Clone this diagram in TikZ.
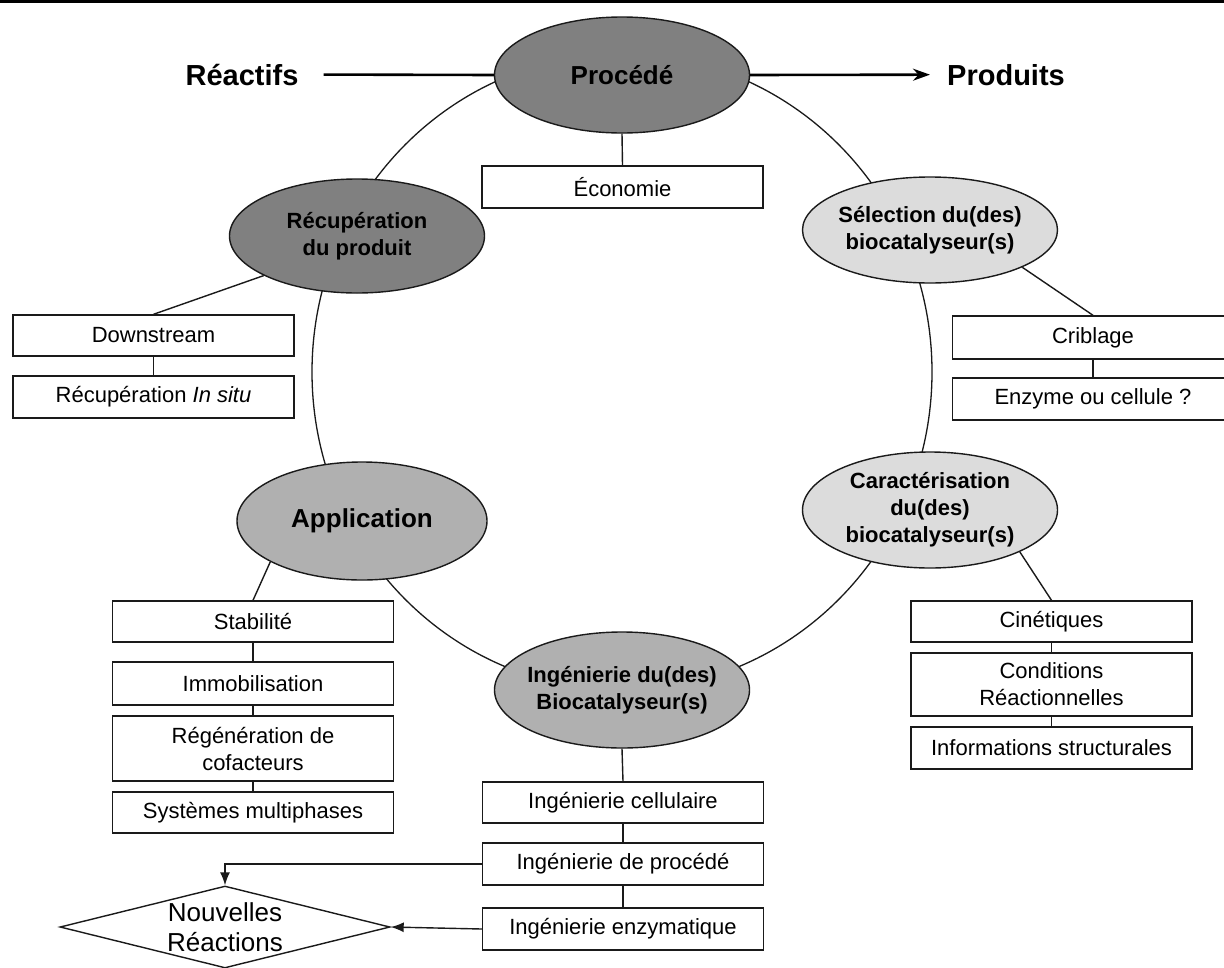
\documentclass[tikz,border=0pt]{standalone}
\usepackage{fontspec}
\setmainfont{Liberation Sans}
\usetikzlibrary{shapes.geometric,arrows.meta,calc}
\definecolor{darkfill}{HTML}{808080}
\definecolor{midfill}{HTML}{B0B0B0}
\definecolor{lightfill}{HTML}{DCDCDC}
\definecolor{linecol}{HTML}{1A1A1A}
\begin{document}
\begin{tikzpicture}[x=1pt,y=-1pt,
  ln/.style={line width=1.4pt, draw=linecol},
  bigline/.style={line width=2.6pt, draw=black},
  ell/.style={ellipse, draw=linecol, line width=1.4pt, minimum width=255pt, minimum height=116pt, inner sep=0pt},
  elltext/.style={font=\bfseries\fontsize{22}{27}\selectfont, align=center, inner sep=0pt},
  bigtext/.style={font=\bfseries\fontsize{26}{30}\selectfont, inner sep=0pt},
  endtext/.style={font=\bfseries\fontsize{29}{34}\selectfont, inner sep=0pt, anchor=base},
  box/.style={draw=linecol, line width=1.4pt, fill=white, minimum width=281pt, minimum height=42pt, inner sep=0pt, font=\fontsize{22}{27}\selectfont, align=center},
  tip/.style={-{Latex[length=13pt,width=10pt]}}
]
\useasboundingbox (0,0) rectangle (1224,967);
\fill[white] (0,0) rectangle (1224,967);
% top rule
\draw[line width=3pt] (0,1) -- (1224,1);

% the cycle
\node[ellipse, draw=linecol, line width=1.3pt, minimum width=620pt, minimum height=636pt, inner sep=0pt] (cycle) at (622,372) {};

% ellipses
\node[ell, fill=darkfill, label={[bigtext]center:Procédé}] (proc) at (622,75) {};
\node[ell, fill=darkfill, minimum height=114pt, label={[elltext]center:{Récupération\\du produit}}] (recup) at (357,236) {};
\node[ell, fill=lightfill, minimum height=106pt, label={[elltext]center:{Sélection du(des)\\biocatalyseur(s)}}] (selec) at (930,230) {};
\node[ell, fill=midfill, minimum width=250pt, minimum height=118pt, label={[bigtext]center:Application}] (appl) at (362,521) {};
\node[ell, fill=lightfill, label={[elltext]center:{Caractérisation\\du(des)\\biocatalyseur(s)}}] (carac) at (930,510) {};
\node[ell, fill=midfill, label={[elltext]center:{Ingénierie du(des)\\Biocatalyseur(s)}}] (ingen) at (622,690) {};

% end texts
\node[endtext] (reac) at (242,85) {Réactifs};
\node[endtext] (prod) at (1006,85) {Produits};
\draw[bigline, shorten <=25pt] (reac.east) -- (proc.west);
\draw[bigline, -{Stealth[length=17pt,width=12pt]}, shorten >=17pt] (proc.east) -- (prod.west);

% boxes
\node[box] (eco) at (622.5,187) {Économie};
\node[box, minimum height=41pt] (down) at (153.5,335.5) {Downstream};
\node[box] (insitu) at (153.5,397) {Récupération \textit{In situ}};
\node[box, minimum height=43pt] (crib) at (1093,337.5) {Criblage};
\node[box] (enz) at (1093,399) {Enzyme ou cellule ?};
\node[box, minimum height=41pt] (stab) at (253,621.5) {Stabilité};
\node[box, minimum height=43pt] (immo) at (253,683.5) {Immobilisation};
\node[box, minimum height=65pt] (regen) at (253,748.5) {Régénération de\\cofacteurs};
\node[box, minimum height=41pt] (sys) at (253,812.5) {Systèmes multiphases};
\node[box, minimum height=41pt] (cin) at (1051.5,621.5) {Cinétiques};
\node[box, minimum height=63pt] (cond) at (1051.5,684.5) {Conditions\\Réactionnelles};
\node[box] (info) at (1051.5,748) {Informations structurales};
\node[box, minimum height=41pt] (icell) at (623,802.5) {Ingénierie cellulaire};
\node[box] (iproc) at (623,864) {Ingénierie de procédé};
\node[box] (ienz) at (623,929) {Ingénierie enzymatique};

% diamond
\node[diamond, draw=linecol, line width=1.4pt, fill=white, minimum width=330pt, minimum height=82pt, inner sep=0pt,
  label={[font=\fontsize{26}{30}\selectfont, align=center, inner sep=0pt]center:{Nouvelles\\Réactions}}] (nouv) at (225,927) {};

% connectors
\draw[ln] (proc.south) -- (eco.north);
\draw[ln] (recup.203) -- (down.north);
\draw[ln] (down.south) -- (insitu.north);
\draw[ln] (selec.338) -- (crib.north);
\draw[ln] (crib.south) -- (enz.north);
\draw[ln] (appl.204) -- (stab.north);
\draw[ln] (stab.south) -- (immo.north);
\draw[ln] (immo.south) -- (regen.north);
\draw[ln] (regen.south) -- (sys.north);
\draw[ln] (carac.335) -- (cin.north);
\draw[ln] (cin.south) -- (cond.north);
\draw[ln] (cond.south) -- (info.north);
\draw[ln] (ingen.south) -- (icell.north);
\draw[ln] (icell.south) -- (iproc.north);
\draw[ln] (iproc.south) -- (ienz.north);
\draw[ln, tip] (iproc.west) -| (nouv.north);
\draw[ln, tip] (ienz.west) -- (nouv.east);
\end{tikzpicture}
\end{document}
